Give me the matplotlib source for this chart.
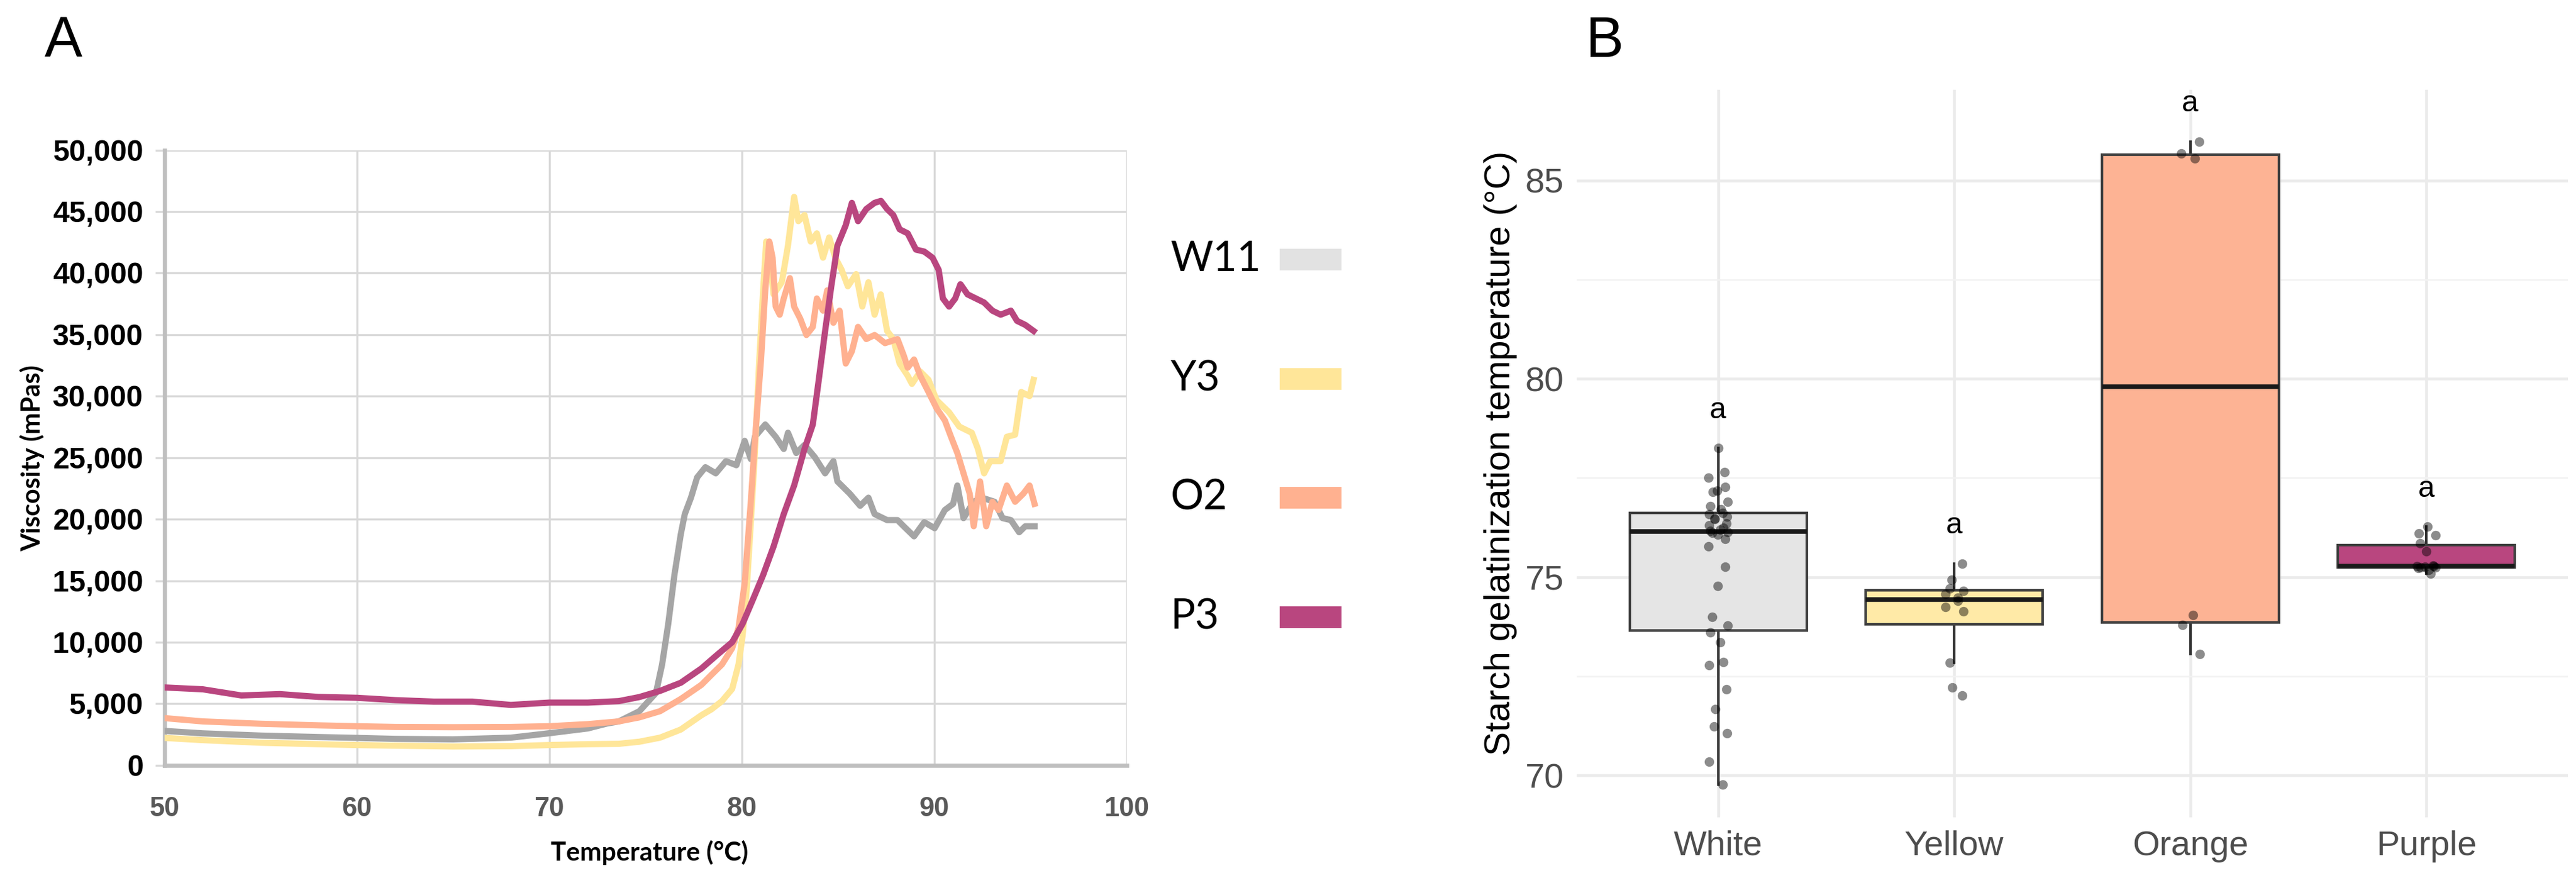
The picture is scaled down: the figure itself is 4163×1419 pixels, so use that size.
import matplotlib
matplotlib.use("Agg")
import matplotlib.pyplot as plt
import matplotlib.patches as patches
from matplotlib.ticker import FuncFormatter, MultipleLocator, FixedLocator
import numpy as np

# ---- panel A: viscosity curves ----
w11_temp = [50, 52, 55, 58, 60, 62, 65, 68, 70, 72, 73, 73.61, 74.68, 75.54, 75.86, 76.18,
            76.5, 76.83, 77.04, 77.36, 77.68, 78.11, 78.65, 79.18, 79.72, 80.15, 80.47, 80.68,
            81.22, 81.76, 82.18, 82.4, 82.83, 83.26, 83.79, 84.33, 84.76, 84.97, 85.61, 86.15,
            86.58, 86.9, 87.55, 88.09, 88.41, 88.95, 89.48, 90.02, 90.55, 90.98, 91.2, 91.52,
            92.05, 92.48, 93.13, 93.55, 93.98, 94.41, 94.73, 95.21]
w11_visc = [2800, 2600, 2420, 2300, 2230, 2150, 2110, 2250, 2610, 3000, 3400, 3570, 4400, 5880,
            8200, 11500, 15470, 18770, 20420, 21750, 23400, 24230, 23730, 24720, 24390, 26370,
            24890, 26700, 27700, 26700, 25710, 27030, 25380, 26040, 25050, 23730, 24720, 23070,
            22080, 21090, 21750, 20420, 19930, 19930, 19430, 18610, 19760, 19270, 20750, 21250,
            22740, 20090, 21420, 21750, 21420, 20090, 19930, 18940, 19430, 19430]

y3_temp = [50, 52, 55, 58, 60, 62, 65, 68, 70, 72, 73.61, 74.68, 75.75, 76.83, 77.9, 78.43,
           78.97, 79.5, 79.83, 80.04, 80.25, 80.47, 80.68, 80.9, 81.11, 81.27, 81.49, 81.65,
           82.08, 82.4, 82.72, 82.94, 83.26, 83.58, 83.9, 84.22, 84.54, 84.86, 85.19, 85.51,
           85.94, 86.26, 86.58, 86.9, 87.22, 87.55, 87.87, 88.2, 88.62, 88.84, 89.27, 89.7,
           90.12, 90.77, 91.3, 91.95, 92.27, 92.59, 92.91, 93.45, 93.77, 94.2, 94.52, 94.95, 95.16]
y3_visc = [2230, 2050, 1840, 1720, 1650, 1600, 1535, 1560, 1650, 1720, 1750, 1920, 2250, 2910,
           4070, 4560, 5220, 6210, 8200, 10510, 14150, 19760, 25380, 32650, 38600, 42570, 40590,
           38270, 39260, 42240, 46200, 44220, 44720, 42570, 43230, 41250, 42900, 41250, 40260,
           38930, 39920, 37280, 39260, 36620, 38270, 35300, 34640, 32650, 31660, 31000, 32000,
           31330, 29680, 28690, 27530, 27030, 25710, 23730, 24720, 24720, 26700, 26870, 30340,
           30010, 31330]

o2_temp = [50, 52, 55, 58, 60, 62, 65, 68, 70, 72, 73.61, 74.68, 75.75, 76.83, 77.9, 78.43,
           78.97, 79.5, 79.83, 80.15, 80.47, 80.68, 81.0, 81.22, 81.43, 81.6, 81.76, 81.97,
           82.18, 82.5, 82.72, 83.04, 83.36, 83.69, 83.9, 84.22, 84.44, 84.76, 85.08, 85.4,
           85.72, 86.04, 86.47, 86.9, 87.44, 88.09, 88.41, 88.62, 88.95, 89.27, 89.7, 90.12,
           90.55, 90.87, 91.2, 91.52, 91.84, 92.05, 92.38, 92.7, 93.02, 93.34, 93.77, 94.2,
           94.63, 94.95, 95.21]
o2_visc = [3840, 3570, 3380, 3250, 3180, 3120, 3100, 3120, 3180, 3350, 3570, 3900, 4400, 5390,
           6540, 7370, 8200, 9520, 11170, 14810, 21420, 26370, 32980, 38600, 42570, 41250, 37280,
           36620, 37940, 39590, 37280, 36290, 34970, 35630, 37940, 36950, 38600, 35960, 36950,
           32650, 33650, 35630, 34640, 34970, 34310, 34640, 33320, 32320, 32980, 31660, 30340,
           29020, 28030, 26700, 25380, 23730, 22080, 19430, 23070, 19430, 21420, 20750, 22740,
           21420, 22080, 22740, 21250]

p3_temp = [50, 52, 54, 56, 58, 60, 62, 64, 66, 68, 70, 72, 73.61, 74.68, 75.75, 76.83, 77.9,
           78.75, 79.5, 80.04, 80.58, 81.11, 81.65, 82.18, 82.72, 83.26, 83.69, 84.0, 84.33,
           84.65, 84.97, 85.4, 85.72, 86.04, 86.47, 86.9, 87.23, 87.55, 87.87, 88.2, 88.62,
           89.05, 89.48, 89.91, 90.23, 90.45, 90.77, 91.09, 91.36, 91.73, 92.16, 92.59, 93.02,
           93.45, 93.98, 94.3, 94.73, 95.16]
p3_visc = [6330, 6180, 5680, 5790, 5560, 5490, 5300, 5180, 5180, 4910, 5100, 5100, 5220, 5550,
           6050, 6710, 7870, 9020, 10010, 11500, 13480, 15470, 17780, 20420, 22740, 25710, 27700,
           31330, 35300, 38930, 42240, 43890, 45710, 44220, 45210, 45710, 45870, 45210, 44720,
           43560, 43230, 41910, 41750, 41250, 40260, 37940, 37280, 37940, 39100, 38270, 37940,
           37610, 36950, 36620, 36950, 36120, 35790, 35300]

series_names = ["W11", "Y3", "O2", "P3"]
line_colors = ["#A5A5A5", "#FFE699", "#FFB190", "#B9467F"]
legend_colors = ["#E2E2E2", "#FFE699", "#FFB190", "#B9467F"]

# ---- panel B: gelatinization temperature per flesh colour ----
groups = ["White", "Yellow", "Orange", "Purple"]
white_vals = [78.25, 77.64, 77.5, 77.27, 77.17, 77.14, 76.89, 76.78, 76.71, 76.62, 76.58, 76.53,
              76.48, 76.46, 76.35, 76.30, 76.24, 76.20, 76.17, 76.14, 76.12, 76.07, 75.96, 75.78,
              75.26, 74.78, 73.99, 73.78, 73.60, 73.35, 72.85, 72.78, 72.17, 71.67, 71.24, 71.06,
              70.34, 69.77]
yellow_vals = [75.34, 74.93, 74.71, 74.65, 74.57, 74.48, 74.40, 74.25, 74.14, 72.84, 72.22, 72.02]
orange_vals = [85.98, 85.68, 85.55, 74.05, 73.79, 73.06]
purple_vals = [76.27, 76.10, 76.05, 75.85, 75.65, 75.29, 75.28, 75.27, 75.26, 75.25, 75.24,
               75.23, 75.18, 75.09]
group_letters = ["a", "a", "a", "a"]
box_colors = ["#E5E5E5", "#FFEAA7", "#FDB394", "#B9467F"]

W, H = 4163, 1419
fig = plt.figure(figsize=(W / 300, H / 300), dpi=300)

# ================= Panel A (Excel-style line chart) =================
axA = fig.add_axes([0.0638, 0.1283, 0.3736, 0.7008])
curves = [(w11_temp, w11_visc), (y3_temp, y3_visc), (o2_temp, o2_visc), (p3_temp, p3_visc)]
for (t, v), c in zip(curves, line_colors):
    axA.plot(t, v, color=c, lw=2.4, solid_joinstyle="round", zorder=3)

axA.set_xlim(50, 100)
axA.set_ylim(0, 50000)
axA.xaxis.set_major_locator(MultipleLocator(10))
axA.yaxis.set_major_locator(MultipleLocator(5000))
axA.yaxis.set_major_formatter(FuncFormatter(lambda v, p: f"{int(v):,}"))
axA.grid(True, color="#D9D9D9", lw=0.8, zorder=0)
axA.set_axisbelow(True)
for s in ["top", "right"]:
    axA.spines[s].set_visible(False)
for s in ["left", "bottom"]:
    axA.spines[s].set_color("#BFBFBF")
    axA.spines[s].set_linewidth(1.6)
axA.tick_params(axis="y", length=3.6, width=0.8, color="#D9D9D9", pad=4.5)
axA.tick_params(axis="x", length=0, pad=12)
for lab in axA.get_yticklabels():
    lab.set_fontfamily(["Liberation Sans", "DejaVu Sans"])
    lab.set_fontweight("bold")
    lab.set_fontsize(11.5)
    lab.set_color("black")
axA.get_yticklabels()[0].set_color("#595959")
for lab in axA.get_xticklabels():
    lab.set_fontfamily(["Liberation Sans", "DejaVu Sans"])
    lab.set_fontweight("bold")
    lab.set_fontsize(10.5)
    lab.set_color("#595959")

fig.text(0.252, 0.029, "Temperature (°C)", ha="center", va="center", fontsize=10,
         fontweight="bold", family=["Lato", "DejaVu Sans"])
fig.text(0.0125, 0.4785, "Viscosity (mPas)", ha="center", va="center", rotation=90,
         fontsize=10, fontweight="bold", family=["Lato", "DejaVu Sans"])

# legend: label on the left, colour block on the right
leg_y = [0.7047, 0.5687, 0.4332, 0.297]
for name, c, y in zip(series_names, legend_colors, leg_y):
    fig.text(0.4545, y, name, ha="left", va="center", fontsize=16,
             family=["Lato", "DejaVu Sans"])
    fig.patches.append(patches.Rectangle((0.4968, y - 0.0124), 0.024, 0.0247,
                                         transform=fig.transFigure, facecolor=c,
                                         edgecolor="none"))

# ================= Panel B (ggplot-style boxplot) =================
axB = fig.add_axes([0.612, 0.069, 0.3849, 0.829])
data = [white_vals, yellow_vals, orange_vals, purple_vals]
pos = np.arange(1, len(groups) + 1)
bp = axB.boxplot(data, positions=pos, widths=0.75, patch_artist=True, showfliers=False,
                 whis=1.5, showcaps=False,
                 medianprops=dict(color="#1A1A1A", lw=1.8),
                 whiskerprops=dict(color="#333333", lw=1.0),
                 boxprops=dict(edgecolor="#404040", lw=1.0))
for b, c in zip(bp["boxes"], box_colors):
    b.set_facecolor(c)
    b.set_zorder(2)
for w in bp["whiskers"]:
    w.set_zorder(1.5)

# jittered points
for i, vals in enumerate(data):
    k = np.arange(len(vals))
    offs = 0.04 * np.sin(k * 2.39 + i)
    axB.plot(pos[i] + offs, vals, "o", color="black", alpha=0.45, markersize=3.7,
             markeredgewidth=0, zorder=4)
    axB.text(pos[i], max(vals) + 0.95, group_letters[i], ha="center", va="center",
             fontsize=11.5, family=["Liberation Sans", "DejaVu Sans"], zorder=5)

axB.set_xlim(0.4, 4.6)
axB.set_ylim(68.94, 87.29)
axB.set_xticks(pos)
axB.set_xticklabels(groups)
axB.yaxis.set_major_locator(FixedLocator([70, 75, 80, 85]))
axB.yaxis.set_minor_locator(FixedLocator([72.5, 77.5, 82.5]))
axB.grid(True, which="major", color="#EBEBEB", lw=1.1, zorder=0)
axB.grid(True, which="minor", axis="y", color="#F2F2F2", lw=0.6, zorder=0)
axB.set_axisbelow(True)
for s in axB.spines.values():
    s.set_visible(False)
axB.tick_params(axis="both", which="both", length=0)
axB.tick_params(axis="y", pad=5)
axB.tick_params(axis="x", pad=5)
for lab in axB.get_xticklabels() + axB.get_yticklabels():
    lab.set_fontfamily(["Liberation Sans", "DejaVu Sans"])
    lab.set_fontsize(13.5)
    lab.set_color("#4D4D4D")
fig.text(0.5825, 0.4835, "Starch gelatinization temperature (°C)", ha="center", va="center",
         rotation=90, fontsize=14, family=["Liberation Sans", "DejaVu Sans"])

# panel tags
fig.text(0.0245, 0.952, "A", ha="center", va="center", fontsize=22,
         family=["Liberation Sans", "DejaVu Sans"])
fig.text(0.623, 0.952, "B", ha="center", va="center", fontsize=22,
         family=["Liberation Sans", "DejaVu Sans"])

fig.savefig("out.png", dpi=300, facecolor="white")
